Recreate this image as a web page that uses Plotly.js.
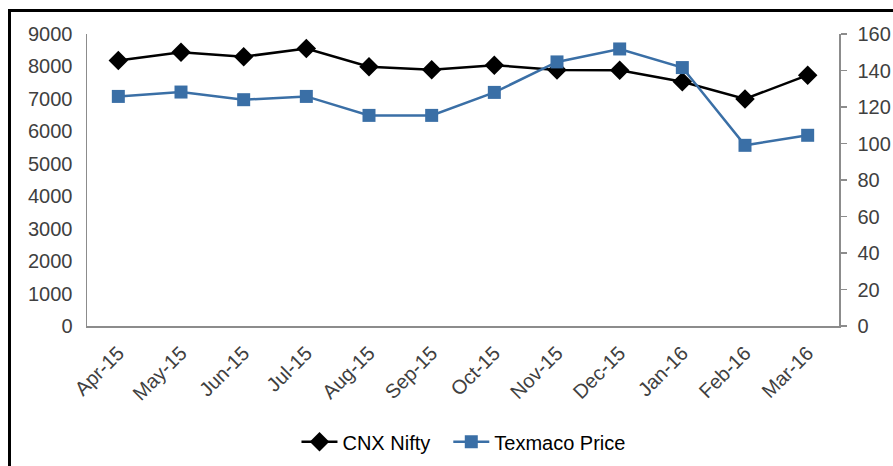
<!DOCTYPE html>
<html>
<head>
<meta charset="utf-8">
<script src="https://cdn.plot.ly/plotly-3.0.1.min.js"></script>
<style>
  body { margin: 0; background: #fff; }
  #chart { width: 893px; height: 466px; }
  #frame {
    position: absolute; left: 8px; top: 9px; width: 900px; height: 500px;
    border: 3px solid #000; pointer-events: none;
  }
</style>
</head>
<body>
<div id="chart"></div>
<div id="frame"></div>
<script>
var months = ["Apr-15", "May-15", "Jun-15", "Jul-15", "Aug-15", "Sep-15",
              "Oct-15", "Nov-15", "Dec-15", "Jan-16", "Feb-16", "Mar-16"];
var nifty = [8180, 8440, 8300, 8550, 7990, 7900, 8040, 7890, 7880, 7530, 7000, 7730];
var texmaco = [125.8, 128.2, 124.0, 125.8, 115.4, 115.4, 128.0, 144.7, 151.8, 141.6, 99.0, 104.5];

var axis_color = "#8c8c8c";
var text_color = "#404040";
var blue = "#3a6fa6";

var trace0 = {
    x: months,
    y: nifty,
    name: "CNX Nifty",
    legend: "legend",
    mode: "lines+markers",
    type: "scatter",
    line: { color: "#000000", width: 2.5 },
    marker: { symbol: "diamond", size: 15, color: "#000000" }
};
var trace1 = {
    x: months,
    y: texmaco,
    name: "Texmaco Price",
    legend: "legend2",
    yaxis: "y2",
    mode: "lines+markers",
    type: "scatter",
    line: { color: blue, width: 2.5 },
    marker: { symbol: "square", size: 13, color: blue }
};

var legend_style = {
    orientation: "h",
    xref: "container", xanchor: "left",
    yref: "container", y: 0.052, yanchor: "middle",
    font: { size: 20, color: "#000000" },
    itemwidth: 36
};

var layout = {
    width: 893,
    height: 466,
    margin: { l: 87, r: 54, t: 34, b: 140 },
    paper_bgcolor: "#ffffff",
    plot_bgcolor: "#ffffff",
    font: { family: "Liberation Sans, Arial, sans-serif", size: 20, color: text_color },
    showlegend: true,
    legend: Object.assign({}, legend_style, { x: 0.332 }),
    legend2: Object.assign({}, legend_style, { x: 0.502 }),
    xaxis: {
        type: "category",
        range: [-0.5, 11.5],
        tickangle: -45,
        showline: true,
        linecolor: axis_color,
        linewidth: 1.5,
        showgrid: false,
        ticks: "",
        ticklabelstandoff: 6,
        zeroline: false,
        automargin: false
    },
    yaxis: {
        range: [0, 9000],
        dtick: 1000,
        showline: true,
        linecolor: axis_color,
        linewidth: 1.5,
        showgrid: false,
        ticks: "",
        ticklabelstandoff: 9,
        zeroline: false,
        automargin: false
    },
    yaxis2: {
        range: [0, 160],
        dtick: 20,
        overlaying: "y",
        side: "right",
        showline: true,
        linecolor: axis_color,
        linewidth: 1.5,
        showgrid: false,
        ticks: "outside",
        ticklen: 6,
        tickcolor: axis_color,
        tickwidth: 1.5,
        ticklabelstandoff: 7,
        zeroline: false,
        automargin: false
    }
};

Plotly.newPlot("chart", [trace0, trace1], layout, { displayModeBar: false, staticPlot: true });
</script>
</body>
</html>
